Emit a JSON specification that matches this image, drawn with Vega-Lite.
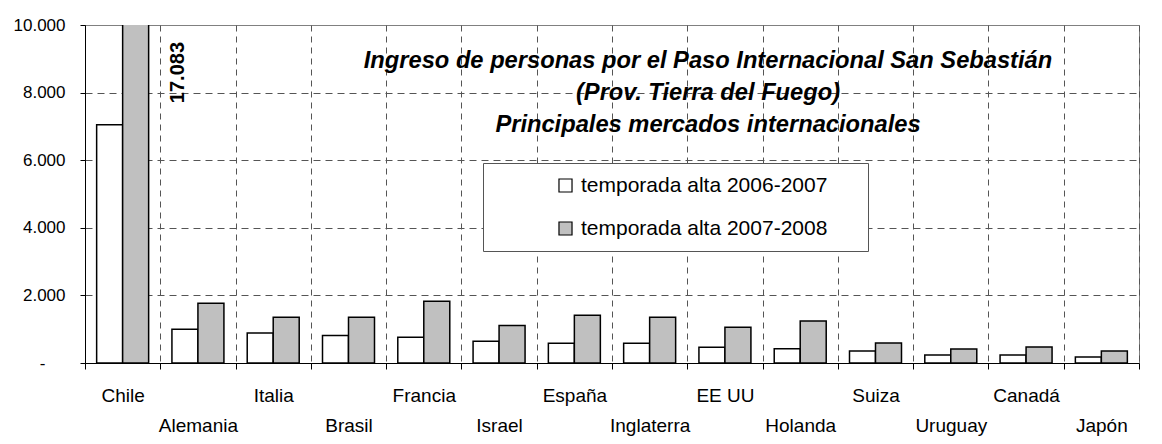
{
  "$schema": "https://vega.github.io/schema/vega-lite/v6.json",
  "width": 1054,
  "height": 338,
  "autosize": {"type": "none"},
  "padding": {"left": 85, "top": 25, "right": 23, "bottom": 81},
  "background": "white",
  "config": {"font": "Liberation Sans", "view": {"stroke": "#808080", "strokeWidth": 1}},
  "title": {
    "text": ["Ingreso de personas por el Paso Internacional San Sebastián", "(Prov. Tierra del Fuego)", "Principales mercados internacionales"],
    "font": "Liberation Sans",
    "fontSize": 23.7,
    "fontWeight": "bold",
    "fontStyle": "italic",
    "color": "black",
    "anchor": "middle",
    "frame": "group",
    "orient": "top",
    "baseline": "top",
    "offset": 0,
    "dx": 96,
    "dy": 121,
    "lineHeight": 32
  },
  "layer": [
    {
      "data": {
        "values": [
          {"pais": "Chile", "temporada": "temporada alta 2006-2007", "valor": 7050},
          {"pais": "Chile", "temporada": "temporada alta 2007-2008", "valor": 17083},
          {"pais": "Alemania", "temporada": "temporada alta 2006-2007", "valor": 1000},
          {"pais": "Alemania", "temporada": "temporada alta 2007-2008", "valor": 1770},
          {"pais": "Italia", "temporada": "temporada alta 2006-2007", "valor": 890},
          {"pais": "Italia", "temporada": "temporada alta 2007-2008", "valor": 1350},
          {"pais": "Brasil", "temporada": "temporada alta 2006-2007", "valor": 815},
          {"pais": "Brasil", "temporada": "temporada alta 2007-2008", "valor": 1350},
          {"pais": "Francia", "temporada": "temporada alta 2006-2007", "valor": 760},
          {"pais": "Francia", "temporada": "temporada alta 2007-2008", "valor": 1830},
          {"pais": "Israel", "temporada": "temporada alta 2006-2007", "valor": 645},
          {"pais": "Israel", "temporada": "temporada alta 2007-2008", "valor": 1110},
          {"pais": "España", "temporada": "temporada alta 2006-2007", "valor": 585},
          {"pais": "España", "temporada": "temporada alta 2007-2008", "valor": 1415},
          {"pais": "Inglaterra", "temporada": "temporada alta 2006-2007", "valor": 585},
          {"pais": "Inglaterra", "temporada": "temporada alta 2007-2008", "valor": 1355},
          {"pais": "EE UU", "temporada": "temporada alta 2006-2007", "valor": 467},
          {"pais": "EE UU", "temporada": "temporada alta 2007-2008", "valor": 1060},
          {"pais": "Holanda", "temporada": "temporada alta 2006-2007", "valor": 425},
          {"pais": "Holanda", "temporada": "temporada alta 2007-2008", "valor": 1240},
          {"pais": "Suiza", "temporada": "temporada alta 2006-2007", "valor": 355},
          {"pais": "Suiza", "temporada": "temporada alta 2007-2008", "valor": 590},
          {"pais": "Uruguay", "temporada": "temporada alta 2006-2007", "valor": 235},
          {"pais": "Uruguay", "temporada": "temporada alta 2007-2008", "valor": 415},
          {"pais": "Canadá", "temporada": "temporada alta 2006-2007", "valor": 235},
          {"pais": "Canadá", "temporada": "temporada alta 2007-2008", "valor": 475},
          {"pais": "Japón", "temporada": "temporada alta 2006-2007", "valor": 175},
          {"pais": "Japón", "temporada": "temporada alta 2007-2008", "valor": 355}
        ]
      },
      "mark": {"type": "bar", "stroke": "black", "strokeWidth": 1.5, "clip": true},
      "encoding": {
        "x": {
          "field": "pais",
          "type": "nominal",
          "scale": {
            "domain": ["Chile", "Alemania", "Italia", "Brasil", "Francia", "Israel", "España", "Inglaterra", "EE UU", "Holanda", "Suiza", "Uruguay", "Canadá", "Japón"],
            "paddingInner": 0,
            "paddingOuter": 0
          },
          "axis": {
            "title": null,
            "tickBand": "extent",
            "grid": true,
            "gridDash": [6, 5],
            "gridColor": "#555555",
            "domainColor": "black",
            "tickColor": "black",
            "tickSize": 6,
            "labelAngle": 0,
            "labelFont": "Liberation Sans",
            "labelFontSize": 19,
            "labelColor": "black",
            "labelPadding": 17,
            "labelLineHeight": 30,
            "labelBaseline": "top",
            "labelOverlap": false,
            "labelExpr": "indexof(['Alemania','Brasil','Israel','Inglaterra','Holanda','Uruguay','Japón'], datum.value) >= 0 ? ['', datum.value] : datum.value"
          }
        },
        "xOffset": {
          "field": "temporada",
          "type": "nominal",
          "scale": {"paddingInner": 0, "paddingOuter": 0.448}
        },
        "y": {
          "field": "valor",
          "type": "quantitative",
          "scale": {"domain": [0, 10000], "nice": false},
          "axis": {
            "title": null,
            "values": [0, 2000, 4000, 6000, 8000, 10000],
            "grid": true,
            "gridDash": [7, 5],
            "gridColor": "#555555",
            "gridOpacity": {"condition": {"test": "datum.value == 10000", "value": 0}, "value": 1},
            "domainColor": "black",
            "tickColor": "black",
            "tickSize": 5,
            "labelFont": "Liberation Sans",
            "labelFontSize": 17,
            "labelColor": "black",
            "labelPadding": {"condition": {"test": "datum.value == 0", "value": 35}, "value": 15},
            "labelExpr": "datum.value == 0 ? '-' : replace(format(datum.value, ','), ',', '.')"
          }
        },
        "fill": {
          "field": "temporada",
          "type": "nominal",
          "scale": {
            "domain": ["temporada alta 2006-2007", "temporada alta 2007-2008"],
            "range": ["white", "#c0c0c0"]
          },
          "legend": {
            "orient": "none",
            "legendX": 398,
            "legendY": 138,
            "title": ".",
            "titleOrient": "right",
            "titleFontSize": 8,
            "titleColor": "white",
            "titlePadding": 26,
            "fillColor": "white",
            "strokeColor": "#555555",
            "padding": 12,
            "labelFont": "Liberation Sans",
            "labelFontSize": 21,
            "labelColor": "black",
            "labelLimit": 400,
            "labelOffset": 5,
            "symbolType": "square",
            "symbolSize": 170,
            "symbolStrokeColor": "black",
            "symbolStrokeWidth": 1.2,
            "symbolOffset": 60,
            "rowPadding": 21,
            "direction": "vertical"
          }
        }
      }
    },
    {
      "data": {"values": [{"pais": "Chile", "etiqueta": "17.083"}]},
      "mark": {
        "type": "text",
        "angle": 270,
        "align": "right",
        "baseline": "middle",
        "font": "Liberation Sans",
        "fontSize": 20,
        "fontWeight": "bold",
        "color": "black",
        "dx": -17,
        "dy": 55
      },
      "encoding": {
        "x": {"field": "pais", "type": "nominal"},
        "y": {"datum": 10000},
        "text": {"field": "etiqueta"}
      }
    }
  ]
}
